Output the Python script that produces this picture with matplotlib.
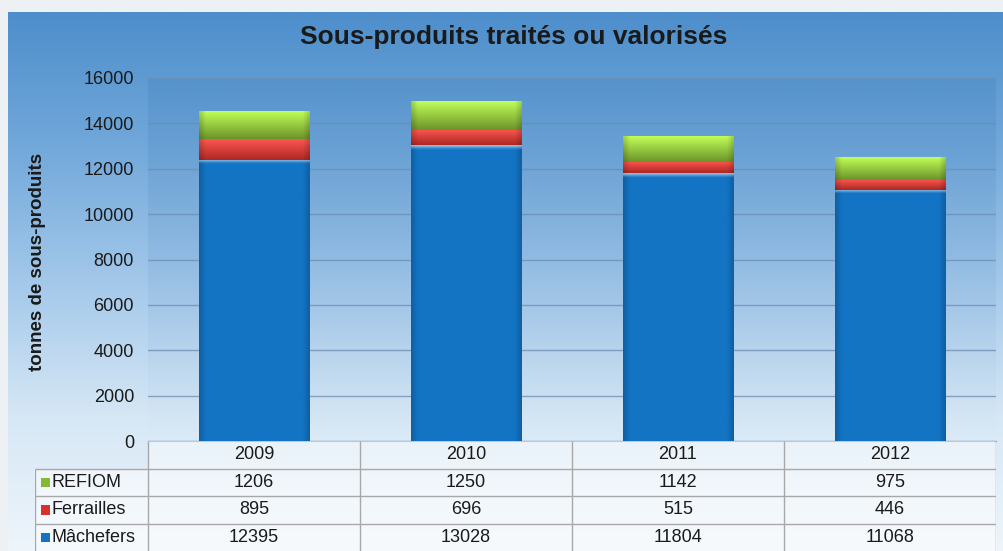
import numpy as np
import matplotlib.pyplot as plt
from matplotlib.colors import LinearSegmentedColormap, to_rgb

plt.rcParams['font.family'] = ['Liberation Sans', 'DejaVu Sans']

# Data
years = ["2009", "2010", "2011", "2012"]
series = ["REFIOM", "Ferrailles", "Mâchefers"]
machefers = [12395, 13028, 11804, 11068]
ferrailles = [895, 696, 515, 446]
refiom = [1206, 1250, 1142, 975]
colors = {"Mâchefers": "#1374c4", "Ferrailles": "#d8312c", "REFIOM": "#86b833"}

W, H = 1004, 551
fig = plt.figure(figsize=(W / 100, H / 100), dpi=100)

# Background: grey frame + blue vertical gradient panel
bg = fig.add_axes([0, 0, 1, 1])
bg.axis("off")
bg.add_patch(plt.Rectangle((0, 0), W, H, color="#eef1f3", zorder=0))
bgcmap = LinearSegmentedColormap.from_list(
    "bg", ["#4d8ecb", "#72a8da", "#a3c8ea", "#d6e7f5", "#eef5fb"])
grad = np.linspace(0, 1, 256).reshape(-1, 1)
bg.imshow(grad, extent=[8, W, H, 12], cmap=bgcmap, aspect="auto", zorder=1)
bg.set_xlim(0, W)
bg.set_ylim(H, 0)

fig.text(514 / W, 1 - 37 / H, "Sous-produits traités ou valorisés",
         ha="center", va="center", fontsize=19, fontweight="bold", color="#1a1a1a")
fig.text(38 / W, 1 - 262 / H, "tonnes de sous-produits", rotation=90,
         ha="center", va="center", fontsize=13.5, fontweight="bold", color="#1a1a1a")

# Main chart
left, right, top, bottom = 148, 996, 78, 441
ax = fig.add_axes([left / W, 1 - bottom / H, (right - left) / W, (bottom - top) / H])
ax.patch.set_alpha(0)
x = np.arange(len(years))
bw = 0.52

# subtle darker plot-area shading at the top
shade = np.linspace(0.18, 0.0, 128).reshape(-1, 1)
ax.imshow(np.dstack([np.full_like(shade, 0.2), np.full_like(shade, 0.45),
                     np.full_like(shade, 0.7), shade]),
          extent=[-0.5, len(years) - 0.5, 0, 16000], aspect="auto", zorder=0)


def bar_image(name, h_units):
    ny, nx = 200, 120
    base = np.array(to_rgb(colors[name]))
    img = np.ones((ny, nx, 3)) * base
    xs = np.linspace(0, 1, nx)
    edge = 1 - 0.18 * np.clip(1 - np.minimum(xs, 1 - xs) / 0.06, 0, 1)
    if name == "Mâchefers":
        img *= edge[None, :, None]
        hl = np.clip(1 - (np.arange(ny) / ny) * h_units / 160, 0, 1)
        hl = hl[:, None, None]
        img = img * (1 - 0.6 * hl) + np.array([0.85, 0.93, 0.98]) * 0.6 * hl
    else:
        ys = np.linspace(0, 1, ny)[:, None, None]
        light = np.minimum(base * 1.25 + 0.1, 1)
        dark = base * 0.8
        img = light * (1 - ys) + dark * ys
        img = img * np.ones((ny, nx, 3))
        img *= edge[None, :, None]
    return np.clip(img, 0, 1)


bottoms = np.zeros(len(years))
for name, vals in [("Mâchefers", machefers), ("Ferrailles", ferrailles), ("REFIOM", refiom)]:
    bars = ax.bar(x, vals, bw, bottom=bottoms, color=colors[name], zorder=3)
    for p in bars:
        x0, y0, w, h = p.get_x(), p.get_y(), p.get_width(), p.get_height()
        ax.imshow(bar_image(name, h), extent=[x0, x0 + w, y0, y0 + h],
                  aspect="auto", zorder=4, interpolation="bilinear")
    bottoms += np.array(vals)

ax.set_xlim(-0.5, len(years) - 0.5)
ax.set_ylim(0, 16000)
ax.set_yticks(np.arange(0, 16001, 2000))
ax.tick_params(axis="y", length=0, labelsize=13, pad=10, colors="#1a1a1a")
ax.set_xticks([])
ax.yaxis.grid(True, color="#6a8db2", linewidth=1.0, alpha=0.75, zorder=1)
for s in ["top", "right", "left"]:
    ax.spines[s].set_visible(False)
ax.spines["bottom"].set_color("#9a9a9a")

# Data table under the chart
tleft = -0.5 - (left - 35) / (right - left) * len(years)
tab = fig.add_axes([35 / W, 0, (right - 35) / W, (H - bottom) / H])
tab.set_xlim(tleft, len(years) - 0.5)
tab.set_ylim(4, 0)
tab.axis("off")

tab.add_patch(plt.Rectangle((-0.5, 0), len(years), 1, color="white", alpha=0.45, lw=0))
tab.add_patch(plt.Rectangle((tleft, 1), len(years) - 0.5 - tleft, 3, color="white", alpha=0.5, lw=0))
lc = "#a8a8a8"
tab.hlines([1, 2, 3], -0.5, len(years) - 0.5, color=lc, lw=1)
tab.hlines([1, 2, 3], tleft, -0.5, color=lc, lw=1)
tab.vlines(np.arange(len(years) + 1) - 0.5, 0, 4, color=lc, lw=1)
tab.vlines(tleft, 1, 4, color=lc, lw=1)

fs = 13
for i, yr in enumerate(years):
    tab.text(i, 0.5, yr, ha="center", va="center", fontsize=fs, color="#1a1a1a")

rows = [("REFIOM", refiom), ("Ferrailles", ferrailles), ("Mâchefers", machefers)]
for r, (name, vals) in enumerate(rows, start=1):
    tab.add_patch(plt.Rectangle((tleft + 0.03, r + 0.34), 0.04, 0.34,
                                color=colors[name], lw=0))
    tab.text(tleft + 0.08, r + 0.5, name, ha="left", va="center",
             fontsize=fs, color="#1a1a1a")
    for i, v in enumerate(vals):
        tab.text(i, r + 0.5, str(v), ha="center", va="center",
                 fontsize=fs, color="#1a1a1a")

fig.savefig("out.png", dpi=100)
